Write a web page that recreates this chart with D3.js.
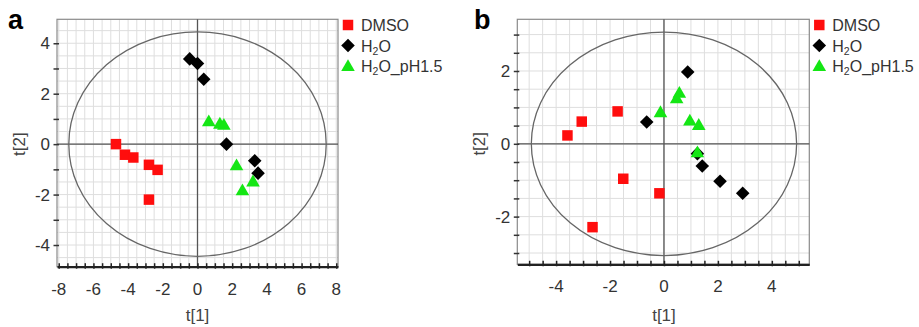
<!DOCTYPE html>
<html>
<head>
<meta charset="utf-8">
<script src="https://d3js.org/d3.v7.min.js"></script>
<style type="text/css">
  body { margin: 0; background: #fff; }
  svg text { font-family: "Liberation Sans", Arial, sans-serif; }
</style>
</head>
<body>
<svg id="chart" width="919" height="327"></svg>
<script>
// groups and legend
var groups = ["DMSO", "H2O", "H2O_pH1.5"];

// panel a: score values [t1, t2]
var aDMSO = [[-4.70, 0.00], [-4.18, -0.42], [-3.70, -0.53], [-2.80, -0.82], [-2.30, -1.02], [-2.80, -2.20]];
var aH2O  = [[-0.45, 3.38], [0.00, 3.20], [0.36, 2.57], [1.67, 0.00], [3.30, -0.66], [3.49, -1.15]];
var aPH   = [[0.65, 0.86], [1.29, 0.77], [1.52, 0.73], [2.25, -0.88], [3.20, -1.52], [2.59, -1.87]];

// panel b
var bDMSO = [[-3.58, 0.23], [-3.05, 0.61], [-1.72, 0.89], [-1.51, -0.96], [-0.17, -1.36], [-2.65, -2.29]];
var bH2O  = [[0.88, 1.97], [-0.64, 0.60], [1.24, -0.27], [1.42, -0.61], [2.08, -1.03], [2.92, -1.36]];
var bPH   = [[-0.13, 0.84], [0.57, 1.37], [0.47, 1.22], [0.96, 0.61], [1.29, 0.49], [1.24, -0.26]];

// ticks
var aXTicks = [-8, -6, -4, -2, 0, 2, 4, 6, 8];
var aYTicks = [-4, -2, 0, 2, 4];
var bXTicks = [-4, -2, 0, 2, 4];
var bYTicks = [-2, 0, 2];

// ellipse radii (Hotelling T2)
var aEllipse = [7.42, 4.45];
var bEllipse = [4.92, 3.07];

var colors = { "DMSO": "#ff0d0d", "H2O": "#000000", "H2O_pH1.5": "#14e614" };

var svg = d3.select("#chart");

function symbolPath(g) {
  if (g == "DMSO") return d3.symbol().type(d3.symbolSquare).size(110)();
  if (g == "H2O") return d3.symbol().type(d3.symbolSquare).size(92)();
  return d3.symbol().type(d3.symbolTriangle).size(80)();
}

function drawPanel(p) {
  var x = d3.scaleLinear().domain(p.xDom).range(p.xRange);
  var y = d3.scaleLinear().domain(p.yDom).range(p.yRange);
  var g = svg.append("g");

  // grid every 0.5
  var gx = d3.range(Math.ceil(p.xDom[0] * 2) / 2, p.xDom[1], 0.5);
  var gy = d3.range(Math.ceil(p.yDom[0] * 2) / 2, p.yDom[1], 0.5);
  g.selectAll(".gx").data(gx).enter().append("line")
    .attr("x1", d => x(d)).attr("x2", d => x(d))
    .attr("y1", p.yRange[0]).attr("y2", p.yRange[1])
    .attr("stroke", "#dedede").attr("stroke-width", 1);
  g.selectAll(".gy").data(gy).enter().append("line")
    .attr("y1", d => y(d)).attr("y2", d => y(d))
    .attr("x1", p.xRange[0]).attr("x2", p.xRange[1])
    .attr("stroke", "#dedede").attr("stroke-width", 1);

  // frame
  g.append("rect")
    .attr("x", p.xRange[0]).attr("y", p.yRange[1])
    .attr("width", p.xRange[1] - p.xRange[0]).attr("height", p.yRange[0] - p.yRange[1])
    .attr("fill", "none").attr("stroke", "#8a8a8a").attr("stroke-width", 1.2);

  // zero lines
  g.append("line").attr("x1", x(0)).attr("x2", x(0))
    .attr("y1", p.yRange[0]).attr("y2", p.yRange[1])
    .attr("stroke", "#555").attr("stroke-width", 1.3);
  g.append("line").attr("y1", y(0)).attr("y2", y(0))
    .attr("x1", p.xRange[0]).attr("x2", p.xRange[1])
    .attr("stroke", "#555").attr("stroke-width", 1.3);

  // ellipse
  g.append("ellipse")
    .attr("cx", x(0)).attr("cy", y(0))
    .attr("rx", x(p.ell[0]) - x(0)).attr("ry", y(0) - y(p.ell[1]))
    .attr("fill", "none").attr("stroke", "#666").attr("stroke-width", 1.3);

  // bottom axis
  var minorX = d3.range(Math.ceil(p.xDom[0] * 2) / 2, p.xDom[1], 0.5);
  var xa = g.append("g").attr("transform", "translate(0," + p.yRange[0] + ")")
    .call(d3.axisBottom(x).tickValues(minorX).tickFormat("").tickSizeOuter(0));
  xa.select(".domain").attr("stroke", "#222").attr("stroke-width", 2.2);
  xa.selectAll(".tick line").attr("y1", -3.5).attr("y2", 2).attr("stroke", "#222").attr("stroke-width", 1.5);
  g.selectAll(".xlab").data(p.xTicks).enter().append("text")
    .attr("x", d => x(d)).attr("y", p.yRange[0] + 28)
    .attr("text-anchor", "middle").attr("font-size", 17).attr("fill", "#333")
    .text(d => String(d));

  // left axis
  var minorY = d3.range(Math.ceil(p.yDom[0] / p.yStep) * p.yStep, p.yDom[1], p.yStep);
  var ya = g.append("g").attr("transform", "translate(" + p.xRange[0] + ",0)")
    .call(d3.axisLeft(y).tickValues(minorY).tickFormat("").tickSizeOuter(0));
  ya.select(".domain").remove();
  ya.selectAll(".tick line").attr("x1", -3.5).attr("x2", 2).attr("stroke", "#333").attr("stroke-width", 1.5);
  g.selectAll(".ylab").data(p.yTicks).enter().append("text")
    .attr("x", p.xRange[0] - 7).attr("y", d => y(d) + 6)
    .attr("text-anchor", "end").attr("font-size", 17).attr("fill", "#333")
    .text(d => String(d));

  // axis titles
  g.append("text").attr("x", x(0)).attr("y", 321)
    .attr("text-anchor", "middle").attr("font-size", 17).attr("fill", "#444").text("t[1]");
  g.append("text")
    .attr("transform", "translate(" + (p.xRange[0] - 32) + "," + y(0) + ") rotate(-90)")
    .attr("text-anchor", "middle").attr("font-size", 17).attr("fill", "#444").text("t[2]");

  // panel letter
  g.append("text").attr("x", p.letterX).attr("y", 29)
    .attr("font-size", 27).attr("font-weight", "bold").attr("fill", "#000").text(p.letter);

  // points
  var series = [["DMSO", p.dmso], ["H2O", p.h2o], ["H2O_pH1.5", p.ph]];
  series.forEach(function (s) {
    g.selectAll(null).data(s[1]).enter().append("path")
      .attr("d", symbolPath(s[0]))
      .attr("transform", d => "translate(" + x(d[0]) + "," + y(d[1]) + ")" + (s[0] == "H2O" ? " rotate(45)" : ""))
      .attr("fill", colors[s[0]]);
  });

  // legend
  var lg = g.append("g").attr("transform", "translate(" + (p.xRange[1] + 10) + ",25)");
  groups.forEach(function (name, i) {
    var row = lg.append("g").attr("transform", "translate(0," + (i * 20.5) + ")");
    row.append("path").attr("d", symbolPath(name))
      .attr("transform", name == "H2O" ? "rotate(45)" : (name == "H2O_pH1.5" ? "translate(0,1)" : ""))
      .attr("fill", colors[name]);
    var t = row.append("text").attr("x", 13).attr("y", 6)
      .attr("font-size", 16).attr("fill", "#333");
    if (name == "DMSO") {
      t.text("DMSO");
    } else {
      t.append("tspan").text("H");
      t.append("tspan").attr("font-size", 10.5).attr("dy", 3).text("2");
      t.append("tspan").attr("dy", -3).text(name == "H2O" ? "O" : "O_pH1.5");
    }
  });
}

drawPanel({
  letter: "a", letterX: 8,
  xDom: [-8.1, 8.1], xRange: [57, 338],
  yDom: [-4.86, 4.95], yRange: [266.7, 19.3], yStep: 1,
  xTicks: aXTicks, yTicks: aYTicks, ell: aEllipse,
  dmso: aDMSO, h2o: aH2O, ph: aPH
});

drawPanel({
  letter: "b", letterX: 474,
  xDom: [-5.44, 5.39], xRange: [517.3, 809.3],
  yDom: [-3.31, 3.42], yRange: [264.3, 19.3], yStep: 0.5,
  xTicks: bXTicks, yTicks: bYTicks, ell: bEllipse,
  dmso: bDMSO, h2o: bH2O, ph: bPH
});
</script>
</body>
</html>
